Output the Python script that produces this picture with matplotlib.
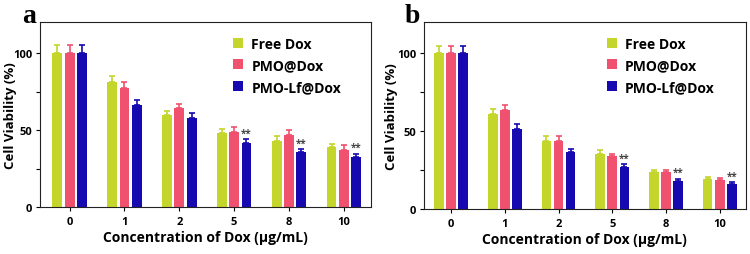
import numpy as np
import matplotlib.pyplot as plt

# concentrations of Dox (ug/mL) used as x categories
concentrations = ["0", "1", "2", "5", "8", "10"]
series_names = ["Free Dox", "PMO@Dox", "PMO-Lf@Dox"]

# panel a
a_free = [100, 81, 59.5, 48, 43, 39]
a_pmo = [100, 77, 64, 49, 47, 37]
a_lf = [100, 66, 58, 41.5, 35.5, 32.5]
a_free_err = [5, 4, 3, 2.5, 3, 1.8]
a_pmo_err = [5, 4, 3, 3, 3, 3]
a_lf_err = [5, 3.5, 3, 2.5, 2, 2]

# panel b
b_free = [100, 61, 44, 35.5, 24, 19.5]
b_pmo = [100, 63.5, 44, 34, 24, 19]
b_lf = [100, 51.5, 36.5, 27, 18, 16]
b_free_err = [5, 3.5, 2.7, 2.2, 1.3, 1.0]
b_pmo_err = [5, 3.5, 2.7, 1.7, 1.3, 1.0]
b_lf_err = [5, 3.2, 2.1, 1.9, 1.6, 1.2]

# groups marked as significant (**)
signif = ["5", "8", "10"]

colors = ["#c4d62c", "#f0516f", "#1609b0"]
plt.rcParams['font.family'] = ['Open Sans', 'DejaVu Sans']


def draw_panel(ax, values, errors, xlim, leg_x, ylab_x):
    x = np.arange(len(concentrations))
    width = 0.18
    offsets = [-0.225, 0, 0.225]
    for vals, errs, off, col, name in zip(values, errors, offsets, colors, series_names):
        ax.bar(x + off, vals, width, color=col, label=name, zorder=2)
        ax.errorbar(x + off, vals, yerr=[np.zeros(len(errs)), errs], fmt='none',
                    ecolor=col, elinewidth=1.2, capsize=2.5, capthick=1.2, zorder=2)
    # significance stars over the PMO-Lf@Dox bars
    lf_vals, lf_errs = values[2], errors[2]
    for i, c in enumerate(concentrations):
        if c in signif:
            ax.text(x[i] + offsets[2], lf_vals[i] + lf_errs[i] + 0.5, "**",
                    ha='center', va='bottom', fontsize=7, color='#444444',
                    fontweight='bold')

    ax.set_xlim(*xlim)
    ax.set_ylim(0, 120)
    ax.set_xticks(x)
    ax.set_xticklabels(concentrations, fontsize=8, fontweight='bold')
    ax.set_yticks([0, 50, 100])
    ax.set_yticks([25, 75], minor=True)
    ax.tick_params(axis='y', labelsize=8, direction='out', length=3, width=0.8, pad=2.5)
    ax.tick_params(axis='y', which='minor', direction='out', length=3, width=0.8)
    ax.tick_params(axis='x', labelsize=8, direction='out', length=3, width=0.8)
    for lbl in ax.get_yticklabels():
        lbl.set_fontweight('bold')
    for sp in ax.spines.values():
        sp.set_linewidth(0.8)
        sp.set_color('#222222')
    ax.set_xlabel("Concentration of Dox (\u03bcg/mL)", fontsize=10,
                  fontweight='bold', labelpad=2)
    ax.set_ylabel("Cell Viability (%)", fontsize=9.5, fontweight='bold')
    ax.yaxis.set_label_coords(ylab_x, 0.5)
    ax.legend(loc='upper left', bbox_to_anchor=(leg_x, 0.99), frameon=False,
              handlelength=0.7, handleheight=0.7, handletextpad=0.6,
              labelspacing=0.55, prop={'family': 'Open Sans', 'weight': 'bold',
                                       'size': 10})


fig = plt.figure(figsize=(7.5, 2.55), dpi=100)
ax_a = fig.add_axes([0.0533, 0.184, 0.441, 0.725])
ax_b = fig.add_axes([0.565, 0.176, 0.429, 0.733])

draw_panel(ax_a, [a_free, a_pmo, a_lf], [a_free_err, a_pmo_err, a_lf_err],
           (-0.54, 5.49), 0.547, -0.068)
draw_panel(ax_b, [b_free, b_pmo, b_lf], [b_free_err, b_pmo_err, b_lf_err],
           (-0.51, 5.48), 0.531, -0.081)

# panel letters
fig.text(0.029, 0.91, "a", fontsize=20, fontweight='bold', family='Liberation Serif',
         ha='left', va='baseline')
fig.text(0.540, 0.91, "b", fontsize=20, fontweight='bold', family='Liberation Serif',
         ha='left', va='baseline')

fig.savefig("out.png", dpi=100)
